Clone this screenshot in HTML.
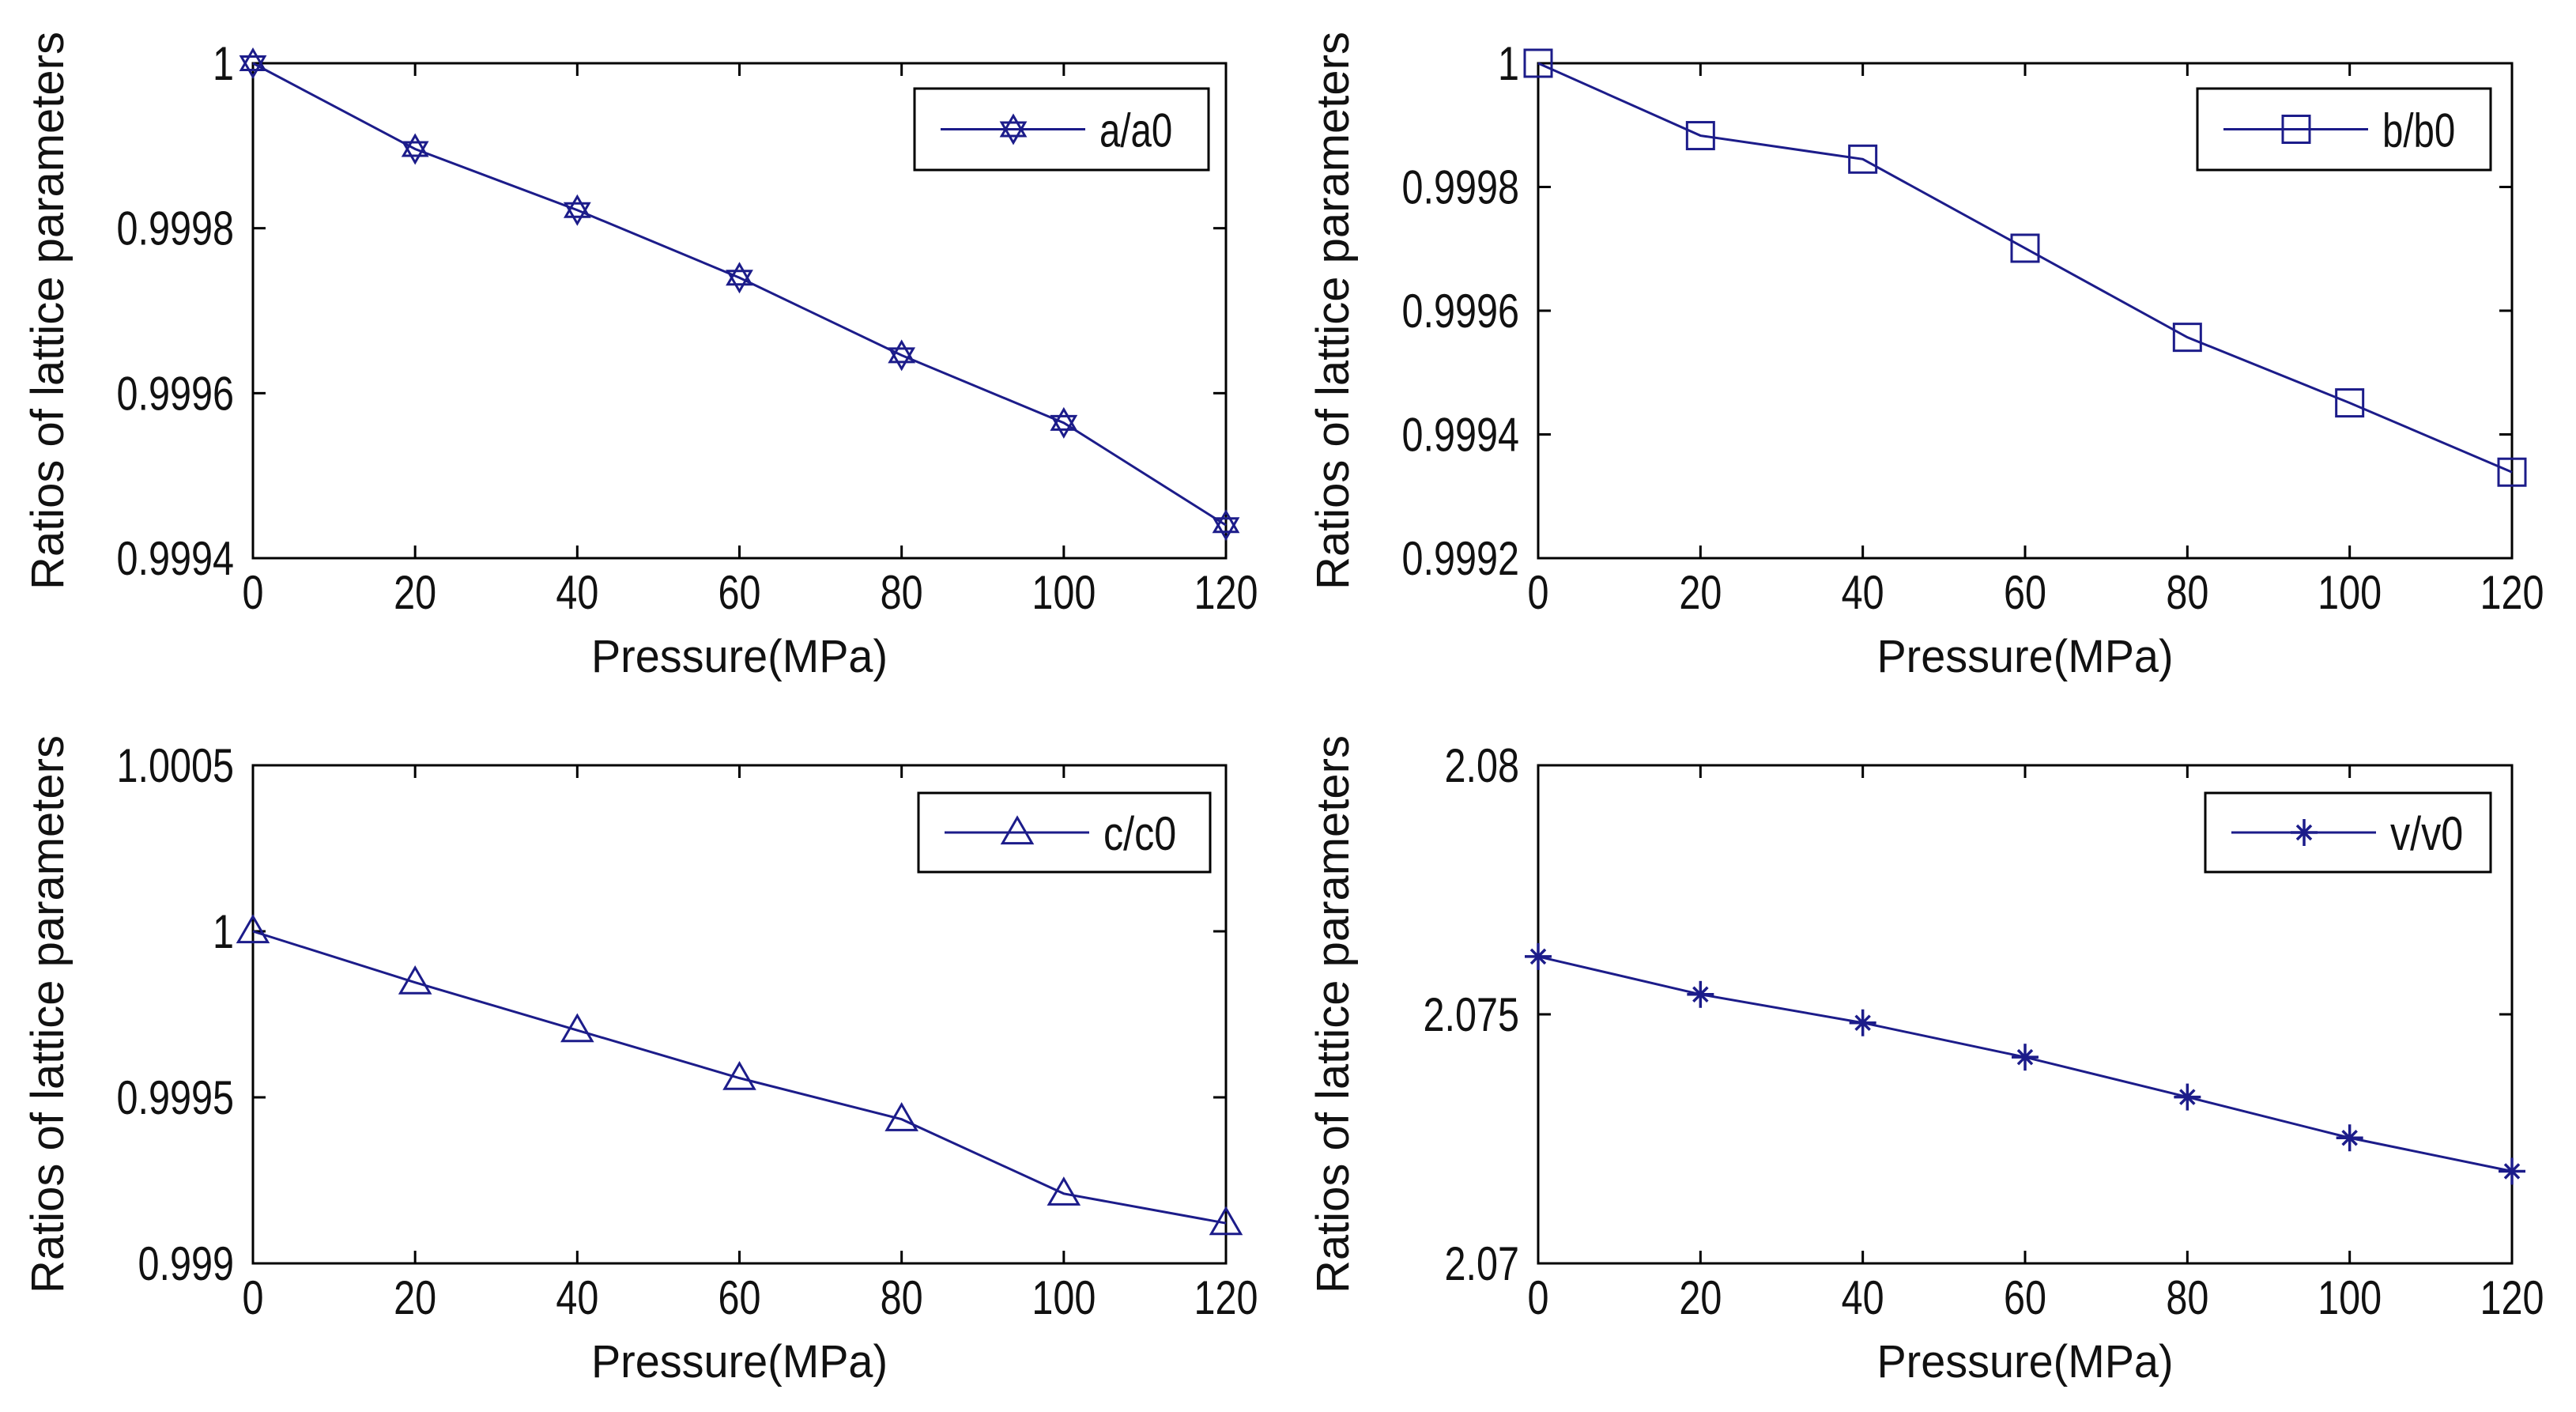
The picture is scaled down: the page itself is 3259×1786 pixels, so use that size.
<!DOCTYPE html>
<html><head><meta charset="utf-8"><style>
html,body{margin:0;padding:0;background:#fff;}
svg{display:block;}
text{font-family:"Liberation Sans",sans-serif;fill:#111;}
</style></head><body>
<svg id="fig" width="3259" height="1786" viewBox="0 0 3259 1786" xmlns="http://www.w3.org/2000/svg"></svg>
<script>
const xCategories=[0,20,40,60,80,100,120];
const seriesA=[1,0.999896,0.999822,0.99974,0.999646,0.999564,0.99944];
const seriesB=[1,0.999883,0.999845,0.999701,0.999557,0.999451,0.999339];
const seriesC=[1,0.999846,0.999702,0.999558,0.999434,0.99921,0.999121];
const seriesV=[2.07616,2.0754,2.07483,2.07414,2.07334,2.07252,2.07185];
const ticksA=["0.9994","0.9996","0.9998","1"];
const ticksB=["0.9992","0.9994","0.9996","0.9998","1"];
const ticksC=["0.999","0.9995","1","1.0005"];
const ticksV=["2.07","2.075","2.08"];
const names=["a/a0","b/b0","c/c0","v/v0"];

const NS="http://www.w3.org/2000/svg";
const svg=document.getElementById('fig');
const COL="#1c1c8a";
function mk(tag,attrs,parent){const e=document.createElementNS(NS,tag);for(const k in attrs)e.setAttribute(k,attrs[k]);(parent||svg).appendChild(e);return e;}
function txt(s,x,y,size,anchor,parent,perChar){
  const t=mk('text',{x:x,y:y,'font-size':size,'text-anchor':anchor},parent);
  if(perChar){let w=0;for(const ch of s)w+=(ch=='.'?perChar*0.5:(ch=='('||ch==')'||ch=='/'?perChar*0.55:perChar));t.setAttribute('textLength',w);t.setAttribute('lengthAdjust','spacingAndGlyphs');}
  t.textContent=s;return t;}
function marker(type,x,y,g){
  const r=17;
  if(type==='hex'){
    mk('polygon',{points:`${x},${y+r} ${x-r*0.87},${y-r/2} ${x+r*0.87},${y-r/2}`,fill:'none',stroke:COL,'stroke-width':3},g);
    mk('polygon',{points:`${x},${y-r} ${x-r*0.87},${y+r/2} ${x+r*0.87},${y+r/2}`,fill:'none',stroke:COL,'stroke-width':3},g);
  }else if(type==='sq'){
    mk('rect',{x:x-r,y:y-r,width:2*r,height:2*r,fill:'none',stroke:COL,'stroke-width':3},g);
  }else if(type==='tri'){
    mk('polygon',{points:`${x},${y-r*1.1} ${x-r*1.1},${y+r*0.8} ${x+r*1.1},${y+r*0.8}`,fill:'none',stroke:COL,'stroke-width':3},g);
  }else{
    for(const a of [0,45,90,135]){const rad=a*Math.PI/180;const rr=(a%90===0)?r:r*0.75;
      mk('line',{x1:x-rr*Math.sin(rad),y1:y-rr*Math.cos(rad),x2:x+rr*Math.sin(rad),y2:y+rr*Math.cos(rad),stroke:COL,'stroke-width':3.5},g);}
  }
}
function panel(name,L,T,R,B,ymin,ymax,ticks,data,mtype,leg){
  const g=mk('g',{});
  
  
  const xs=v=>L+(v-0)/(120-0)*(R-L);
  const ys=v=>B-(v-ymin)/(ymax-ymin)*(B-T);
  mk('rect',{x:L,y:T,width:R-L,height:B-T,fill:'#fff',stroke:'#000','stroke-width':3},g);
  xCategories.forEach(c=>{
    const x=xs(c);
    mk('line',{x1:x,y1:B,x2:x,y2:B-16,stroke:'#000','stroke-width':3},g);
    mk('line',{x1:x,y1:T,x2:x,y2:T+16,stroke:'#000','stroke-width':3},g);
    const t=txt(String(c),x,B+64,60,'middle',g,27);
    
    
  });
  ticks.forEach(s=>{
    const y=ys(parseFloat(s));
    mk('line',{x1:L,y1:y,x2:L+16,y2:y,stroke:'#000','stroke-width':3},g);
    mk('line',{x1:R,y1:y,x2:R-16,y2:y,stroke:'#000','stroke-width':3},g);
    const t=txt(s,L-24,y+21,60,'end',g,27);
    
    
  });
  const xt=txt('Pressure(MPa)',(L+R)/2,B+144,58,'middle',g,31);
  
  
  const yt=mk('text',{x:0,y:0,'font-size':58,'text-anchor':'middle',transform:`translate(${L-240},${(T+B)/2}) rotate(-90)`},g);
  yt.textContent='Ratios of lattice parameters';
  
  
  const pts=data.map((v,i)=>xs(xCategories[i])+','+ys(v)).join(' ');
  const pl=mk('polyline',{points:pts,fill:'none',stroke:COL,'stroke-width':3},g);
  
  
  data.forEach((v,i)=>marker(mtype,xs(xCategories[i]),ys(v),g));
  const lg=mk('g',{},g);
  
  
  mk('rect',{x:leg[0],y:leg[1],width:leg[2]-leg[0],height:leg[3]-leg[1],fill:'#fff',stroke:'#000','stroke-width':3},lg);
  const my=(leg[1]+leg[3])/2;
  mk('line',{x1:leg[0]+33,y1:my,x2:leg[0]+216,y2:my,stroke:COL,'stroke-width':3},lg);
  marker(mtype,leg[0]+125,my,lg);
  txt(leg[4],leg[0]+234,my+22,60,'start',lg,26);
}
panel('panel-a',320,80,1551,706,0.9994,1.0,ticksA,seriesA,'hex',[1157,112,1529,215,names[0]]);
panel('panel-b',1946,80,3178,706,0.9992,1.0,ticksB,seriesB,'sq',[2780,112,3151,215,names[1]]);
panel('panel-c',320,968,1551,1598,0.999,1.0005,ticksC,seriesC,'tri',[1162,1003,1531,1103,names[2]]);
panel('panel-v',1946,968,3178,1598,2.07,2.08,ticksV,seriesV,'star',[2790,1003,3151,1103,names[3]]);
</script>
</body></html>
